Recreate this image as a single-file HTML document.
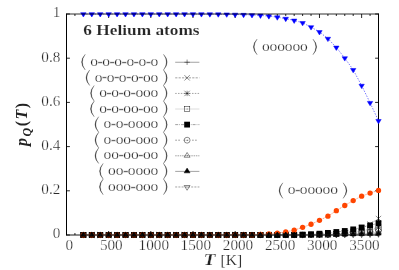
<!DOCTYPE html>
<html><head><meta charset="utf-8"><title>chart</title>
<style>html,body{margin:0;padding:0;background:#fff;}svg{display:block;will-change:transform;opacity:0.999;}</style></head>
<body>
<svg width="399" height="270" viewBox="0 0 399 270">
<rect width="399" height="270" fill="#fff"/>
<path d="M66.5 13.5V235.5M378.5 13.5V235.5" stroke="#000" stroke-width="1" fill="none"/>
<path d="M66.5 235.0H378.5" stroke="#000" stroke-width="0.9" fill="none"/>
<path d="M66.50 235.0v-4.0M66.50 14.0v4.0M74.93 235.0v-2.0M74.93 14.0v2.0M83.36 235.0v-2.0M83.36 14.0v2.0M91.80 235.0v-2.0M91.80 14.0v2.0M100.23 235.0v-2.0M100.23 14.0v2.0M108.66 235.0v-4.0M108.66 14.0v4.0M117.09 235.0v-2.0M117.09 14.0v2.0M125.53 235.0v-2.0M125.53 14.0v2.0M133.96 235.0v-2.0M133.96 14.0v2.0M142.39 235.0v-2.0M142.39 14.0v2.0M150.82 235.0v-4.0M150.82 14.0v4.0M159.26 235.0v-2.0M159.26 14.0v2.0M167.69 235.0v-2.0M167.69 14.0v2.0M176.12 235.0v-2.0M176.12 14.0v2.0M184.55 235.0v-2.0M184.55 14.0v2.0M192.99 235.0v-4.0M192.99 14.0v4.0M201.42 235.0v-2.0M201.42 14.0v2.0M209.85 235.0v-2.0M209.85 14.0v2.0M218.28 235.0v-2.0M218.28 14.0v2.0M226.72 235.0v-2.0M226.72 14.0v2.0M235.15 235.0v-4.0M235.15 14.0v4.0M243.58 235.0v-2.0M243.58 14.0v2.0M252.01 235.0v-2.0M252.01 14.0v2.0M260.45 235.0v-2.0M260.45 14.0v2.0M268.88 235.0v-2.0M268.88 14.0v2.0M277.31 235.0v-4.0M277.31 14.0v4.0M285.74 235.0v-2.0M285.74 14.0v2.0M294.18 235.0v-2.0M294.18 14.0v2.0M302.61 235.0v-2.0M302.61 14.0v2.0M311.04 235.0v-2.0M311.04 14.0v2.0M319.47 235.0v-4.0M319.47 14.0v4.0M327.91 235.0v-2.0M327.91 14.0v2.0M336.34 235.0v-2.0M336.34 14.0v2.0M344.77 235.0v-2.0M344.77 14.0v2.0M353.20 235.0v-2.0M353.20 14.0v2.0M361.64 235.0v-4.0M361.64 14.0v4.0M370.07 235.0v-2.0M370.07 14.0v2.0M378.50 235.0v-2.0M378.50 14.0v2.0M66.5 235.00h3.4M378.5 235.00h-3.4M66.5 190.80h3.4M378.5 190.80h-3.4M66.5 146.60h3.4M378.5 146.60h-3.4M66.5 102.40h3.4M378.5 102.40h-3.4M66.5 58.20h3.4M378.5 58.20h-3.4M66.5 14.00h3.4M378.5 14.00h-3.4" stroke="#000" stroke-width="0.85" fill="none"/>
<polyline points="83.36,235.00 91.80,235.00 100.23,235.00 108.66,235.00 117.09,235.00 125.53,235.00 133.96,235.00 142.39,235.00 150.82,235.00 159.26,235.00 167.69,235.00 176.12,235.00 184.55,235.00 192.99,235.00 201.42,235.00 209.85,235.00 218.28,235.00 226.72,235.00 235.15,235.00 243.58,235.00 252.01,235.00 260.45,235.00 268.88,235.00 277.31,235.00 285.74,235.00 294.18,235.00 302.61,235.00 311.04,235.00 319.47,234.99 327.91,234.98 336.34,234.96 344.77,234.94 353.20,234.91 361.64,234.88 370.07,234.83 378.50,234.78" fill="none" stroke="#444" stroke-width="0.4"/>
<path d="M80.66 235.00H86.06M83.36 232.30V237.70" stroke="#000" stroke-width="0.45" fill="none"/>
<path d="M89.10 235.00H94.50M91.80 232.30V237.70" stroke="#000" stroke-width="0.45" fill="none"/>
<path d="M97.53 235.00H102.93M100.23 232.30V237.70" stroke="#000" stroke-width="0.45" fill="none"/>
<path d="M105.96 235.00H111.36M108.66 232.30V237.70" stroke="#000" stroke-width="0.45" fill="none"/>
<path d="M114.39 235.00H119.79M117.09 232.30V237.70" stroke="#000" stroke-width="0.45" fill="none"/>
<path d="M122.83 235.00H128.23M125.53 232.30V237.70" stroke="#000" stroke-width="0.45" fill="none"/>
<path d="M131.26 235.00H136.66M133.96 232.30V237.70" stroke="#000" stroke-width="0.45" fill="none"/>
<path d="M139.69 235.00H145.09M142.39 232.30V237.70" stroke="#000" stroke-width="0.45" fill="none"/>
<path d="M148.12 235.00H153.52M150.82 232.30V237.70" stroke="#000" stroke-width="0.45" fill="none"/>
<path d="M156.56 235.00H161.96M159.26 232.30V237.70" stroke="#000" stroke-width="0.45" fill="none"/>
<path d="M164.99 235.00H170.39M167.69 232.30V237.70" stroke="#000" stroke-width="0.45" fill="none"/>
<path d="M173.42 235.00H178.82M176.12 232.30V237.70" stroke="#000" stroke-width="0.45" fill="none"/>
<path d="M181.85 235.00H187.25M184.55 232.30V237.70" stroke="#000" stroke-width="0.45" fill="none"/>
<path d="M190.29 235.00H195.69M192.99 232.30V237.70" stroke="#000" stroke-width="0.45" fill="none"/>
<path d="M198.72 235.00H204.12M201.42 232.30V237.70" stroke="#000" stroke-width="0.45" fill="none"/>
<path d="M207.15 235.00H212.55M209.85 232.30V237.70" stroke="#000" stroke-width="0.45" fill="none"/>
<path d="M215.58 235.00H220.98M218.28 232.30V237.70" stroke="#000" stroke-width="0.45" fill="none"/>
<path d="M224.02 235.00H229.42M226.72 232.30V237.70" stroke="#000" stroke-width="0.45" fill="none"/>
<path d="M232.45 235.00H237.85M235.15 232.30V237.70" stroke="#000" stroke-width="0.45" fill="none"/>
<path d="M240.88 235.00H246.28M243.58 232.30V237.70" stroke="#000" stroke-width="0.45" fill="none"/>
<path d="M249.31 235.00H254.71M252.01 232.30V237.70" stroke="#000" stroke-width="0.45" fill="none"/>
<path d="M257.75 235.00H263.15M260.45 232.30V237.70" stroke="#000" stroke-width="0.45" fill="none"/>
<path d="M266.18 235.00H271.58M268.88 232.30V237.70" stroke="#000" stroke-width="0.45" fill="none"/>
<path d="M274.61 235.00H280.01M277.31 232.30V237.70" stroke="#000" stroke-width="0.45" fill="none"/>
<path d="M283.04 235.00H288.44M285.74 232.30V237.70" stroke="#000" stroke-width="0.45" fill="none"/>
<path d="M291.48 235.00H296.88M294.18 232.30V237.70" stroke="#000" stroke-width="0.45" fill="none"/>
<path d="M299.91 235.00H305.31M302.61 232.30V237.70" stroke="#000" stroke-width="0.45" fill="none"/>
<path d="M308.34 235.00H313.74M311.04 232.30V237.70" stroke="#000" stroke-width="0.45" fill="none"/>
<path d="M316.77 234.99H322.17M319.47 232.29V237.69" stroke="#000" stroke-width="0.45" fill="none"/>
<path d="M325.21 234.98H330.61M327.91 232.28V237.68" stroke="#000" stroke-width="0.45" fill="none"/>
<path d="M333.64 234.96H339.04M336.34 232.26V237.66" stroke="#000" stroke-width="0.45" fill="none"/>
<path d="M342.07 234.94H347.47M344.77 232.24V237.64" stroke="#000" stroke-width="0.45" fill="none"/>
<path d="M350.50 234.91H355.90M353.20 232.21V237.61" stroke="#000" stroke-width="0.45" fill="none"/>
<path d="M358.94 234.88H364.34M361.64 232.18V237.58" stroke="#000" stroke-width="0.45" fill="none"/>
<path d="M367.37 234.83H372.77M370.07 232.13V237.53" stroke="#000" stroke-width="0.45" fill="none"/>
<path d="M375.80 234.78H381.20M378.50 232.08V237.48" stroke="#000" stroke-width="0.45" fill="none"/>
<polyline points="83.36,235.00 91.80,235.00 100.23,235.00 108.66,235.00 117.09,235.00 125.53,235.00 133.96,235.00 142.39,235.00 150.82,235.00 159.26,235.00 167.69,235.00 176.12,235.00 184.55,235.00 192.99,235.00 201.42,235.00 209.85,235.00 218.28,235.00 226.72,235.00 235.15,235.00 243.58,235.00 252.01,235.00 260.45,235.00 268.88,235.00 277.31,235.00 285.74,235.00 294.18,235.00 302.61,235.00 311.04,234.99 319.47,234.91 327.91,234.65 336.34,234.04 344.77,232.90 353.20,231.02 361.64,228.17 370.07,224.10 378.50,218.54" fill="none" stroke="#444" stroke-width="0.4" stroke-dasharray="2.2,1.2"/>
<path d="M80.66 232.30L86.06 237.70M80.66 237.70L86.06 232.30" stroke="#000" stroke-width="0.45" fill="none"/>
<path d="M89.10 232.30L94.50 237.70M89.10 237.70L94.50 232.30" stroke="#000" stroke-width="0.45" fill="none"/>
<path d="M97.53 232.30L102.93 237.70M97.53 237.70L102.93 232.30" stroke="#000" stroke-width="0.45" fill="none"/>
<path d="M105.96 232.30L111.36 237.70M105.96 237.70L111.36 232.30" stroke="#000" stroke-width="0.45" fill="none"/>
<path d="M114.39 232.30L119.79 237.70M114.39 237.70L119.79 232.30" stroke="#000" stroke-width="0.45" fill="none"/>
<path d="M122.83 232.30L128.23 237.70M122.83 237.70L128.23 232.30" stroke="#000" stroke-width="0.45" fill="none"/>
<path d="M131.26 232.30L136.66 237.70M131.26 237.70L136.66 232.30" stroke="#000" stroke-width="0.45" fill="none"/>
<path d="M139.69 232.30L145.09 237.70M139.69 237.70L145.09 232.30" stroke="#000" stroke-width="0.45" fill="none"/>
<path d="M148.12 232.30L153.52 237.70M148.12 237.70L153.52 232.30" stroke="#000" stroke-width="0.45" fill="none"/>
<path d="M156.56 232.30L161.96 237.70M156.56 237.70L161.96 232.30" stroke="#000" stroke-width="0.45" fill="none"/>
<path d="M164.99 232.30L170.39 237.70M164.99 237.70L170.39 232.30" stroke="#000" stroke-width="0.45" fill="none"/>
<path d="M173.42 232.30L178.82 237.70M173.42 237.70L178.82 232.30" stroke="#000" stroke-width="0.45" fill="none"/>
<path d="M181.85 232.30L187.25 237.70M181.85 237.70L187.25 232.30" stroke="#000" stroke-width="0.45" fill="none"/>
<path d="M190.29 232.30L195.69 237.70M190.29 237.70L195.69 232.30" stroke="#000" stroke-width="0.45" fill="none"/>
<path d="M198.72 232.30L204.12 237.70M198.72 237.70L204.12 232.30" stroke="#000" stroke-width="0.45" fill="none"/>
<path d="M207.15 232.30L212.55 237.70M207.15 237.70L212.55 232.30" stroke="#000" stroke-width="0.45" fill="none"/>
<path d="M215.58 232.30L220.98 237.70M215.58 237.70L220.98 232.30" stroke="#000" stroke-width="0.45" fill="none"/>
<path d="M224.02 232.30L229.42 237.70M224.02 237.70L229.42 232.30" stroke="#000" stroke-width="0.45" fill="none"/>
<path d="M232.45 232.30L237.85 237.70M232.45 237.70L237.85 232.30" stroke="#000" stroke-width="0.45" fill="none"/>
<path d="M240.88 232.30L246.28 237.70M240.88 237.70L246.28 232.30" stroke="#000" stroke-width="0.45" fill="none"/>
<path d="M249.31 232.30L254.71 237.70M249.31 237.70L254.71 232.30" stroke="#000" stroke-width="0.45" fill="none"/>
<path d="M257.75 232.30L263.15 237.70M257.75 237.70L263.15 232.30" stroke="#000" stroke-width="0.45" fill="none"/>
<path d="M266.18 232.30L271.58 237.70M266.18 237.70L271.58 232.30" stroke="#000" stroke-width="0.45" fill="none"/>
<path d="M274.61 232.30L280.01 237.70M274.61 237.70L280.01 232.30" stroke="#000" stroke-width="0.45" fill="none"/>
<path d="M283.04 232.30L288.44 237.70M283.04 237.70L288.44 232.30" stroke="#000" stroke-width="0.45" fill="none"/>
<path d="M291.48 232.30L296.88 237.70M291.48 237.70L296.88 232.30" stroke="#000" stroke-width="0.45" fill="none"/>
<path d="M299.91 232.30L305.31 237.70M299.91 237.70L305.31 232.30" stroke="#000" stroke-width="0.45" fill="none"/>
<path d="M308.34 232.29L313.74 237.69M308.34 237.69L313.74 232.29" stroke="#000" stroke-width="0.45" fill="none"/>
<path d="M316.77 232.21L322.17 237.61M316.77 237.61L322.17 232.21" stroke="#000" stroke-width="0.45" fill="none"/>
<path d="M325.21 231.95L330.61 237.35M325.21 237.35L330.61 231.95" stroke="#000" stroke-width="0.45" fill="none"/>
<path d="M333.64 231.34L339.04 236.74M333.64 236.74L339.04 231.34" stroke="#000" stroke-width="0.45" fill="none"/>
<path d="M342.07 230.20L347.47 235.60M342.07 235.60L347.47 230.20" stroke="#000" stroke-width="0.45" fill="none"/>
<path d="M350.50 228.32L355.90 233.72M350.50 233.72L355.90 228.32" stroke="#000" stroke-width="0.45" fill="none"/>
<path d="M358.94 225.47L364.34 230.87M358.94 230.87L364.34 225.47" stroke="#000" stroke-width="0.45" fill="none"/>
<path d="M367.37 221.40L372.77 226.80M367.37 226.80L372.77 221.40" stroke="#000" stroke-width="0.45" fill="none"/>
<path d="M375.80 215.84L381.20 221.24M375.80 221.24L381.20 215.84" stroke="#000" stroke-width="0.45" fill="none"/>
<polyline points="83.36,235.00 91.80,235.00 100.23,235.00 108.66,235.00 117.09,235.00 125.53,235.00 133.96,235.00 142.39,235.00 150.82,235.00 159.26,235.00 167.69,235.00 176.12,235.00 184.55,235.00 192.99,235.00 201.42,235.00 209.85,235.00 218.28,235.00 226.72,235.00 235.15,235.00 243.58,235.00 252.01,235.00 260.45,235.00 268.88,235.00 277.31,235.00 285.74,235.00 294.18,235.00 302.61,234.98 311.04,234.89 319.47,234.67 327.91,234.31 336.34,233.76 344.77,233.01 353.20,232.03 361.64,230.79 370.07,229.29 378.50,227.49" fill="none" stroke="#444" stroke-width="0.4" stroke-dasharray="1.5,1.3"/>
<path d="M80.66 232.30L86.06 237.70M80.66 237.70L86.06 232.30M80.66 235.00H86.06M83.36 232.30V237.70" stroke="#000" stroke-width="0.45" fill="none"/>
<path d="M89.10 232.30L94.50 237.70M89.10 237.70L94.50 232.30M89.10 235.00H94.50M91.80 232.30V237.70" stroke="#000" stroke-width="0.45" fill="none"/>
<path d="M97.53 232.30L102.93 237.70M97.53 237.70L102.93 232.30M97.53 235.00H102.93M100.23 232.30V237.70" stroke="#000" stroke-width="0.45" fill="none"/>
<path d="M105.96 232.30L111.36 237.70M105.96 237.70L111.36 232.30M105.96 235.00H111.36M108.66 232.30V237.70" stroke="#000" stroke-width="0.45" fill="none"/>
<path d="M114.39 232.30L119.79 237.70M114.39 237.70L119.79 232.30M114.39 235.00H119.79M117.09 232.30V237.70" stroke="#000" stroke-width="0.45" fill="none"/>
<path d="M122.83 232.30L128.23 237.70M122.83 237.70L128.23 232.30M122.83 235.00H128.23M125.53 232.30V237.70" stroke="#000" stroke-width="0.45" fill="none"/>
<path d="M131.26 232.30L136.66 237.70M131.26 237.70L136.66 232.30M131.26 235.00H136.66M133.96 232.30V237.70" stroke="#000" stroke-width="0.45" fill="none"/>
<path d="M139.69 232.30L145.09 237.70M139.69 237.70L145.09 232.30M139.69 235.00H145.09M142.39 232.30V237.70" stroke="#000" stroke-width="0.45" fill="none"/>
<path d="M148.12 232.30L153.52 237.70M148.12 237.70L153.52 232.30M148.12 235.00H153.52M150.82 232.30V237.70" stroke="#000" stroke-width="0.45" fill="none"/>
<path d="M156.56 232.30L161.96 237.70M156.56 237.70L161.96 232.30M156.56 235.00H161.96M159.26 232.30V237.70" stroke="#000" stroke-width="0.45" fill="none"/>
<path d="M164.99 232.30L170.39 237.70M164.99 237.70L170.39 232.30M164.99 235.00H170.39M167.69 232.30V237.70" stroke="#000" stroke-width="0.45" fill="none"/>
<path d="M173.42 232.30L178.82 237.70M173.42 237.70L178.82 232.30M173.42 235.00H178.82M176.12 232.30V237.70" stroke="#000" stroke-width="0.45" fill="none"/>
<path d="M181.85 232.30L187.25 237.70M181.85 237.70L187.25 232.30M181.85 235.00H187.25M184.55 232.30V237.70" stroke="#000" stroke-width="0.45" fill="none"/>
<path d="M190.29 232.30L195.69 237.70M190.29 237.70L195.69 232.30M190.29 235.00H195.69M192.99 232.30V237.70" stroke="#000" stroke-width="0.45" fill="none"/>
<path d="M198.72 232.30L204.12 237.70M198.72 237.70L204.12 232.30M198.72 235.00H204.12M201.42 232.30V237.70" stroke="#000" stroke-width="0.45" fill="none"/>
<path d="M207.15 232.30L212.55 237.70M207.15 237.70L212.55 232.30M207.15 235.00H212.55M209.85 232.30V237.70" stroke="#000" stroke-width="0.45" fill="none"/>
<path d="M215.58 232.30L220.98 237.70M215.58 237.70L220.98 232.30M215.58 235.00H220.98M218.28 232.30V237.70" stroke="#000" stroke-width="0.45" fill="none"/>
<path d="M224.02 232.30L229.42 237.70M224.02 237.70L229.42 232.30M224.02 235.00H229.42M226.72 232.30V237.70" stroke="#000" stroke-width="0.45" fill="none"/>
<path d="M232.45 232.30L237.85 237.70M232.45 237.70L237.85 232.30M232.45 235.00H237.85M235.15 232.30V237.70" stroke="#000" stroke-width="0.45" fill="none"/>
<path d="M240.88 232.30L246.28 237.70M240.88 237.70L246.28 232.30M240.88 235.00H246.28M243.58 232.30V237.70" stroke="#000" stroke-width="0.45" fill="none"/>
<path d="M249.31 232.30L254.71 237.70M249.31 237.70L254.71 232.30M249.31 235.00H254.71M252.01 232.30V237.70" stroke="#000" stroke-width="0.45" fill="none"/>
<path d="M257.75 232.30L263.15 237.70M257.75 237.70L263.15 232.30M257.75 235.00H263.15M260.45 232.30V237.70" stroke="#000" stroke-width="0.45" fill="none"/>
<path d="M266.18 232.30L271.58 237.70M266.18 237.70L271.58 232.30M266.18 235.00H271.58M268.88 232.30V237.70" stroke="#000" stroke-width="0.45" fill="none"/>
<path d="M274.61 232.30L280.01 237.70M274.61 237.70L280.01 232.30M274.61 235.00H280.01M277.31 232.30V237.70" stroke="#000" stroke-width="0.45" fill="none"/>
<path d="M283.04 232.30L288.44 237.70M283.04 237.70L288.44 232.30M283.04 235.00H288.44M285.74 232.30V237.70" stroke="#000" stroke-width="0.45" fill="none"/>
<path d="M291.48 232.30L296.88 237.70M291.48 237.70L296.88 232.30M291.48 235.00H296.88M294.18 232.30V237.70" stroke="#000" stroke-width="0.45" fill="none"/>
<path d="M299.91 232.28L305.31 237.68M299.91 237.68L305.31 232.28M299.91 234.98H305.31M302.61 232.28V237.68" stroke="#000" stroke-width="0.45" fill="none"/>
<path d="M308.34 232.19L313.74 237.59M308.34 237.59L313.74 232.19M308.34 234.89H313.74M311.04 232.19V237.59" stroke="#000" stroke-width="0.45" fill="none"/>
<path d="M316.77 231.97L322.17 237.37M316.77 237.37L322.17 231.97M316.77 234.67H322.17M319.47 231.97V237.37" stroke="#000" stroke-width="0.45" fill="none"/>
<path d="M325.21 231.61L330.61 237.01M325.21 237.01L330.61 231.61M325.21 234.31H330.61M327.91 231.61V237.01" stroke="#000" stroke-width="0.45" fill="none"/>
<path d="M333.64 231.06L339.04 236.46M333.64 236.46L339.04 231.06M333.64 233.76H339.04M336.34 231.06V236.46" stroke="#000" stroke-width="0.45" fill="none"/>
<path d="M342.07 230.31L347.47 235.71M342.07 235.71L347.47 230.31M342.07 233.01H347.47M344.77 230.31V235.71" stroke="#000" stroke-width="0.45" fill="none"/>
<path d="M350.50 229.33L355.90 234.73M350.50 234.73L355.90 229.33M350.50 232.03H355.90M353.20 229.33V234.73" stroke="#000" stroke-width="0.45" fill="none"/>
<path d="M358.94 228.09L364.34 233.49M358.94 233.49L364.34 228.09M358.94 230.79H364.34M361.64 228.09V233.49" stroke="#000" stroke-width="0.45" fill="none"/>
<path d="M367.37 226.59L372.77 231.99M367.37 231.99L372.77 226.59M367.37 229.29H372.77M370.07 226.59V231.99" stroke="#000" stroke-width="0.45" fill="none"/>
<path d="M375.80 224.79L381.20 230.19M375.80 230.19L381.20 224.79M375.80 227.49H381.20M378.50 224.79V230.19" stroke="#000" stroke-width="0.45" fill="none"/>
<polyline points="83.36,235.00 91.80,235.00 100.23,235.00 108.66,235.00 117.09,235.00 125.53,235.00 133.96,235.00 142.39,235.00 150.82,235.00 159.26,235.00 167.69,235.00 176.12,235.00 184.55,235.00 192.99,235.00 201.42,235.00 209.85,235.00 218.28,235.00 226.72,235.00 235.15,235.00 243.58,235.00 252.01,235.00 260.45,235.00 268.88,235.00 277.31,235.00 285.74,235.00 294.18,235.00 302.61,234.98 311.04,234.91 319.47,234.73 327.91,234.43 336.34,233.98 344.77,233.36 353.20,232.55 361.64,231.54 370.07,230.29 378.50,228.81" fill="none" stroke="#b8b8b8" stroke-width="0.4"/>
<rect x="80.66" y="232.30" width="5.4" height="5.4" stroke="#000" stroke-width="0.45" fill="none"/><circle cx="83.36" cy="235.00" r="0.45" fill="#000"/>
<rect x="89.10" y="232.30" width="5.4" height="5.4" stroke="#000" stroke-width="0.45" fill="none"/><circle cx="91.80" cy="235.00" r="0.45" fill="#000"/>
<rect x="97.53" y="232.30" width="5.4" height="5.4" stroke="#000" stroke-width="0.45" fill="none"/><circle cx="100.23" cy="235.00" r="0.45" fill="#000"/>
<rect x="105.96" y="232.30" width="5.4" height="5.4" stroke="#000" stroke-width="0.45" fill="none"/><circle cx="108.66" cy="235.00" r="0.45" fill="#000"/>
<rect x="114.39" y="232.30" width="5.4" height="5.4" stroke="#000" stroke-width="0.45" fill="none"/><circle cx="117.09" cy="235.00" r="0.45" fill="#000"/>
<rect x="122.83" y="232.30" width="5.4" height="5.4" stroke="#000" stroke-width="0.45" fill="none"/><circle cx="125.53" cy="235.00" r="0.45" fill="#000"/>
<rect x="131.26" y="232.30" width="5.4" height="5.4" stroke="#000" stroke-width="0.45" fill="none"/><circle cx="133.96" cy="235.00" r="0.45" fill="#000"/>
<rect x="139.69" y="232.30" width="5.4" height="5.4" stroke="#000" stroke-width="0.45" fill="none"/><circle cx="142.39" cy="235.00" r="0.45" fill="#000"/>
<rect x="148.12" y="232.30" width="5.4" height="5.4" stroke="#000" stroke-width="0.45" fill="none"/><circle cx="150.82" cy="235.00" r="0.45" fill="#000"/>
<rect x="156.56" y="232.30" width="5.4" height="5.4" stroke="#000" stroke-width="0.45" fill="none"/><circle cx="159.26" cy="235.00" r="0.45" fill="#000"/>
<rect x="164.99" y="232.30" width="5.4" height="5.4" stroke="#000" stroke-width="0.45" fill="none"/><circle cx="167.69" cy="235.00" r="0.45" fill="#000"/>
<rect x="173.42" y="232.30" width="5.4" height="5.4" stroke="#000" stroke-width="0.45" fill="none"/><circle cx="176.12" cy="235.00" r="0.45" fill="#000"/>
<rect x="181.85" y="232.30" width="5.4" height="5.4" stroke="#000" stroke-width="0.45" fill="none"/><circle cx="184.55" cy="235.00" r="0.45" fill="#000"/>
<rect x="190.29" y="232.30" width="5.4" height="5.4" stroke="#000" stroke-width="0.45" fill="none"/><circle cx="192.99" cy="235.00" r="0.45" fill="#000"/>
<rect x="198.72" y="232.30" width="5.4" height="5.4" stroke="#000" stroke-width="0.45" fill="none"/><circle cx="201.42" cy="235.00" r="0.45" fill="#000"/>
<rect x="207.15" y="232.30" width="5.4" height="5.4" stroke="#000" stroke-width="0.45" fill="none"/><circle cx="209.85" cy="235.00" r="0.45" fill="#000"/>
<rect x="215.58" y="232.30" width="5.4" height="5.4" stroke="#000" stroke-width="0.45" fill="none"/><circle cx="218.28" cy="235.00" r="0.45" fill="#000"/>
<rect x="224.02" y="232.30" width="5.4" height="5.4" stroke="#000" stroke-width="0.45" fill="none"/><circle cx="226.72" cy="235.00" r="0.45" fill="#000"/>
<rect x="232.45" y="232.30" width="5.4" height="5.4" stroke="#000" stroke-width="0.45" fill="none"/><circle cx="235.15" cy="235.00" r="0.45" fill="#000"/>
<rect x="240.88" y="232.30" width="5.4" height="5.4" stroke="#000" stroke-width="0.45" fill="none"/><circle cx="243.58" cy="235.00" r="0.45" fill="#000"/>
<rect x="249.31" y="232.30" width="5.4" height="5.4" stroke="#000" stroke-width="0.45" fill="none"/><circle cx="252.01" cy="235.00" r="0.45" fill="#000"/>
<rect x="257.75" y="232.30" width="5.4" height="5.4" stroke="#000" stroke-width="0.45" fill="none"/><circle cx="260.45" cy="235.00" r="0.45" fill="#000"/>
<rect x="266.18" y="232.30" width="5.4" height="5.4" stroke="#000" stroke-width="0.45" fill="none"/><circle cx="268.88" cy="235.00" r="0.45" fill="#000"/>
<rect x="274.61" y="232.30" width="5.4" height="5.4" stroke="#000" stroke-width="0.45" fill="none"/><circle cx="277.31" cy="235.00" r="0.45" fill="#000"/>
<rect x="283.04" y="232.30" width="5.4" height="5.4" stroke="#000" stroke-width="0.45" fill="none"/><circle cx="285.74" cy="235.00" r="0.45" fill="#000"/>
<rect x="291.48" y="232.30" width="5.4" height="5.4" stroke="#000" stroke-width="0.45" fill="none"/><circle cx="294.18" cy="235.00" r="0.45" fill="#000"/>
<rect x="299.91" y="232.28" width="5.4" height="5.4" stroke="#000" stroke-width="0.45" fill="none"/><circle cx="302.61" cy="234.98" r="0.45" fill="#000"/>
<rect x="308.34" y="232.21" width="5.4" height="5.4" stroke="#000" stroke-width="0.45" fill="none"/><circle cx="311.04" cy="234.91" r="0.45" fill="#000"/>
<rect x="316.77" y="232.03" width="5.4" height="5.4" stroke="#000" stroke-width="0.45" fill="none"/><circle cx="319.47" cy="234.73" r="0.45" fill="#000"/>
<rect x="325.21" y="231.73" width="5.4" height="5.4" stroke="#000" stroke-width="0.45" fill="none"/><circle cx="327.91" cy="234.43" r="0.45" fill="#000"/>
<rect x="333.64" y="231.28" width="5.4" height="5.4" stroke="#000" stroke-width="0.45" fill="none"/><circle cx="336.34" cy="233.98" r="0.45" fill="#000"/>
<rect x="342.07" y="230.66" width="5.4" height="5.4" stroke="#000" stroke-width="0.45" fill="none"/><circle cx="344.77" cy="233.36" r="0.45" fill="#000"/>
<rect x="350.50" y="229.85" width="5.4" height="5.4" stroke="#000" stroke-width="0.45" fill="none"/><circle cx="353.20" cy="232.55" r="0.45" fill="#000"/>
<rect x="358.94" y="228.84" width="5.4" height="5.4" stroke="#000" stroke-width="0.45" fill="none"/><circle cx="361.64" cy="231.54" r="0.45" fill="#000"/>
<rect x="367.37" y="227.59" width="5.4" height="5.4" stroke="#000" stroke-width="0.45" fill="none"/><circle cx="370.07" cy="230.29" r="0.45" fill="#000"/>
<rect x="375.80" y="226.11" width="5.4" height="5.4" stroke="#000" stroke-width="0.45" fill="none"/><circle cx="378.50" cy="228.81" r="0.45" fill="#000"/>
<polyline points="83.36,235.00 91.80,235.00 100.23,234.99 108.66,234.99 117.09,234.98 125.53,234.98 133.96,234.98 142.39,234.97 150.82,234.97 159.26,234.96 167.69,234.96 176.12,234.96 184.55,234.95 192.99,234.95 201.42,234.94 209.85,234.94 218.28,234.94 226.72,234.93 235.15,234.93 243.58,234.92 252.01,234.92 260.45,234.92 268.88,234.91 277.31,234.91 285.74,234.90 294.18,234.90 302.61,234.60 311.04,234.20 319.47,233.69 327.91,232.89 336.34,231.99 344.77,230.98 353.20,229.38 361.64,227.47 370.07,225.36 378.50,223.15" fill="none" stroke="#444" stroke-width="0.4" stroke-dasharray="3,1,0.8,1"/>
<rect x="80.46" y="232.10" width="5.800000000000001" height="5.800000000000001" fill="#000"/>
<rect x="88.90" y="232.10" width="5.800000000000001" height="5.800000000000001" fill="#000"/>
<rect x="97.33" y="232.09" width="5.800000000000001" height="5.800000000000001" fill="#000"/>
<rect x="105.76" y="232.09" width="5.800000000000001" height="5.800000000000001" fill="#000"/>
<rect x="114.19" y="232.08" width="5.800000000000001" height="5.800000000000001" fill="#000"/>
<rect x="122.63" y="232.08" width="5.800000000000001" height="5.800000000000001" fill="#000"/>
<rect x="131.06" y="232.08" width="5.800000000000001" height="5.800000000000001" fill="#000"/>
<rect x="139.49" y="232.07" width="5.800000000000001" height="5.800000000000001" fill="#000"/>
<rect x="147.92" y="232.07" width="5.800000000000001" height="5.800000000000001" fill="#000"/>
<rect x="156.36" y="232.06" width="5.800000000000001" height="5.800000000000001" fill="#000"/>
<rect x="164.79" y="232.06" width="5.800000000000001" height="5.800000000000001" fill="#000"/>
<rect x="173.22" y="232.06" width="5.800000000000001" height="5.800000000000001" fill="#000"/>
<rect x="181.65" y="232.05" width="5.800000000000001" height="5.800000000000001" fill="#000"/>
<rect x="190.09" y="232.05" width="5.800000000000001" height="5.800000000000001" fill="#000"/>
<rect x="198.52" y="232.04" width="5.800000000000001" height="5.800000000000001" fill="#000"/>
<rect x="206.95" y="232.04" width="5.800000000000001" height="5.800000000000001" fill="#000"/>
<rect x="215.38" y="232.04" width="5.800000000000001" height="5.800000000000001" fill="#000"/>
<rect x="223.82" y="232.03" width="5.800000000000001" height="5.800000000000001" fill="#000"/>
<rect x="232.25" y="232.03" width="5.800000000000001" height="5.800000000000001" fill="#000"/>
<rect x="240.68" y="232.02" width="5.800000000000001" height="5.800000000000001" fill="#000"/>
<rect x="249.11" y="232.02" width="5.800000000000001" height="5.800000000000001" fill="#000"/>
<rect x="257.55" y="232.02" width="5.800000000000001" height="5.800000000000001" fill="#000"/>
<rect x="265.98" y="232.01" width="5.800000000000001" height="5.800000000000001" fill="#000"/>
<rect x="274.41" y="232.01" width="5.800000000000001" height="5.800000000000001" fill="#000"/>
<rect x="282.84" y="232.00" width="5.800000000000001" height="5.800000000000001" fill="#000"/>
<rect x="291.28" y="232.00" width="5.800000000000001" height="5.800000000000001" fill="#000"/>
<rect x="299.71" y="231.70" width="5.800000000000001" height="5.800000000000001" fill="#000"/>
<rect x="308.14" y="231.30" width="5.800000000000001" height="5.800000000000001" fill="#000"/>
<rect x="316.57" y="230.79" width="5.800000000000001" height="5.800000000000001" fill="#000"/>
<rect x="325.01" y="229.99" width="5.800000000000001" height="5.800000000000001" fill="#000"/>
<rect x="333.44" y="229.09" width="5.800000000000001" height="5.800000000000001" fill="#000"/>
<rect x="341.87" y="228.08" width="5.800000000000001" height="5.800000000000001" fill="#000"/>
<rect x="350.30" y="226.48" width="5.800000000000001" height="5.800000000000001" fill="#000"/>
<rect x="358.74" y="224.57" width="5.800000000000001" height="5.800000000000001" fill="#000"/>
<rect x="367.17" y="222.46" width="5.800000000000001" height="5.800000000000001" fill="#000"/>
<rect x="375.60" y="220.25" width="5.800000000000001" height="5.800000000000001" fill="#000"/>
<polyline points="83.36,235.00 91.80,235.00 100.23,235.00 108.66,235.00 117.09,235.00 125.53,235.00 133.96,235.00 142.39,235.00 150.82,235.00 159.26,235.00 167.69,235.00 176.12,235.00 184.55,235.00 192.99,235.00 201.42,235.00 209.85,235.00 218.28,235.00 226.72,235.00 235.15,235.00 243.58,235.00 252.01,235.00 260.45,235.00 268.88,235.00 277.31,235.00 285.74,235.00 294.18,235.00 302.61,234.99 311.04,234.93 319.47,234.81 327.91,234.59 336.34,234.27 344.77,233.83 353.20,233.25 361.64,232.53 370.07,231.64 378.50,230.58" fill="none" stroke="#444" stroke-width="0.4" stroke-dasharray="1.8,1.2,1.8,3.6"/>
<circle cx="83.36" cy="235.00" r="2.7" stroke="#000" stroke-width="0.45" fill="none"/><circle cx="83.36" cy="235.00" r="0.45" fill="#000"/>
<circle cx="91.80" cy="235.00" r="2.7" stroke="#000" stroke-width="0.45" fill="none"/><circle cx="91.80" cy="235.00" r="0.45" fill="#000"/>
<circle cx="100.23" cy="235.00" r="2.7" stroke="#000" stroke-width="0.45" fill="none"/><circle cx="100.23" cy="235.00" r="0.45" fill="#000"/>
<circle cx="108.66" cy="235.00" r="2.7" stroke="#000" stroke-width="0.45" fill="none"/><circle cx="108.66" cy="235.00" r="0.45" fill="#000"/>
<circle cx="117.09" cy="235.00" r="2.7" stroke="#000" stroke-width="0.45" fill="none"/><circle cx="117.09" cy="235.00" r="0.45" fill="#000"/>
<circle cx="125.53" cy="235.00" r="2.7" stroke="#000" stroke-width="0.45" fill="none"/><circle cx="125.53" cy="235.00" r="0.45" fill="#000"/>
<circle cx="133.96" cy="235.00" r="2.7" stroke="#000" stroke-width="0.45" fill="none"/><circle cx="133.96" cy="235.00" r="0.45" fill="#000"/>
<circle cx="142.39" cy="235.00" r="2.7" stroke="#000" stroke-width="0.45" fill="none"/><circle cx="142.39" cy="235.00" r="0.45" fill="#000"/>
<circle cx="150.82" cy="235.00" r="2.7" stroke="#000" stroke-width="0.45" fill="none"/><circle cx="150.82" cy="235.00" r="0.45" fill="#000"/>
<circle cx="159.26" cy="235.00" r="2.7" stroke="#000" stroke-width="0.45" fill="none"/><circle cx="159.26" cy="235.00" r="0.45" fill="#000"/>
<circle cx="167.69" cy="235.00" r="2.7" stroke="#000" stroke-width="0.45" fill="none"/><circle cx="167.69" cy="235.00" r="0.45" fill="#000"/>
<circle cx="176.12" cy="235.00" r="2.7" stroke="#000" stroke-width="0.45" fill="none"/><circle cx="176.12" cy="235.00" r="0.45" fill="#000"/>
<circle cx="184.55" cy="235.00" r="2.7" stroke="#000" stroke-width="0.45" fill="none"/><circle cx="184.55" cy="235.00" r="0.45" fill="#000"/>
<circle cx="192.99" cy="235.00" r="2.7" stroke="#000" stroke-width="0.45" fill="none"/><circle cx="192.99" cy="235.00" r="0.45" fill="#000"/>
<circle cx="201.42" cy="235.00" r="2.7" stroke="#000" stroke-width="0.45" fill="none"/><circle cx="201.42" cy="235.00" r="0.45" fill="#000"/>
<circle cx="209.85" cy="235.00" r="2.7" stroke="#000" stroke-width="0.45" fill="none"/><circle cx="209.85" cy="235.00" r="0.45" fill="#000"/>
<circle cx="218.28" cy="235.00" r="2.7" stroke="#000" stroke-width="0.45" fill="none"/><circle cx="218.28" cy="235.00" r="0.45" fill="#000"/>
<circle cx="226.72" cy="235.00" r="2.7" stroke="#000" stroke-width="0.45" fill="none"/><circle cx="226.72" cy="235.00" r="0.45" fill="#000"/>
<circle cx="235.15" cy="235.00" r="2.7" stroke="#000" stroke-width="0.45" fill="none"/><circle cx="235.15" cy="235.00" r="0.45" fill="#000"/>
<circle cx="243.58" cy="235.00" r="2.7" stroke="#000" stroke-width="0.45" fill="none"/><circle cx="243.58" cy="235.00" r="0.45" fill="#000"/>
<circle cx="252.01" cy="235.00" r="2.7" stroke="#000" stroke-width="0.45" fill="none"/><circle cx="252.01" cy="235.00" r="0.45" fill="#000"/>
<circle cx="260.45" cy="235.00" r="2.7" stroke="#000" stroke-width="0.45" fill="none"/><circle cx="260.45" cy="235.00" r="0.45" fill="#000"/>
<circle cx="268.88" cy="235.00" r="2.7" stroke="#000" stroke-width="0.45" fill="none"/><circle cx="268.88" cy="235.00" r="0.45" fill="#000"/>
<circle cx="277.31" cy="235.00" r="2.7" stroke="#000" stroke-width="0.45" fill="none"/><circle cx="277.31" cy="235.00" r="0.45" fill="#000"/>
<circle cx="285.74" cy="235.00" r="2.7" stroke="#000" stroke-width="0.45" fill="none"/><circle cx="285.74" cy="235.00" r="0.45" fill="#000"/>
<circle cx="294.18" cy="235.00" r="2.7" stroke="#000" stroke-width="0.45" fill="none"/><circle cx="294.18" cy="235.00" r="0.45" fill="#000"/>
<circle cx="302.61" cy="234.99" r="2.7" stroke="#000" stroke-width="0.45" fill="none"/><circle cx="302.61" cy="234.99" r="0.45" fill="#000"/>
<circle cx="311.04" cy="234.93" r="2.7" stroke="#000" stroke-width="0.45" fill="none"/><circle cx="311.04" cy="234.93" r="0.45" fill="#000"/>
<circle cx="319.47" cy="234.81" r="2.7" stroke="#000" stroke-width="0.45" fill="none"/><circle cx="319.47" cy="234.81" r="0.45" fill="#000"/>
<circle cx="327.91" cy="234.59" r="2.7" stroke="#000" stroke-width="0.45" fill="none"/><circle cx="327.91" cy="234.59" r="0.45" fill="#000"/>
<circle cx="336.34" cy="234.27" r="2.7" stroke="#000" stroke-width="0.45" fill="none"/><circle cx="336.34" cy="234.27" r="0.45" fill="#000"/>
<circle cx="344.77" cy="233.83" r="2.7" stroke="#000" stroke-width="0.45" fill="none"/><circle cx="344.77" cy="233.83" r="0.45" fill="#000"/>
<circle cx="353.20" cy="233.25" r="2.7" stroke="#000" stroke-width="0.45" fill="none"/><circle cx="353.20" cy="233.25" r="0.45" fill="#000"/>
<circle cx="361.64" cy="232.53" r="2.7" stroke="#000" stroke-width="0.45" fill="none"/><circle cx="361.64" cy="232.53" r="0.45" fill="#000"/>
<circle cx="370.07" cy="231.64" r="2.7" stroke="#000" stroke-width="0.45" fill="none"/><circle cx="370.07" cy="231.64" r="0.45" fill="#000"/>
<circle cx="378.50" cy="230.58" r="2.7" stroke="#000" stroke-width="0.45" fill="none"/><circle cx="378.50" cy="230.58" r="0.45" fill="#000"/>
<polyline points="83.36,235.00 91.80,234.99 100.23,234.99 108.66,234.98 117.09,234.98 125.53,234.97 133.96,234.97 142.39,234.96 150.82,234.95 159.26,234.95 167.69,234.94 176.12,234.94 184.55,234.93 192.99,234.92 201.42,234.92 209.85,234.91 218.28,234.91 226.72,234.90 235.15,234.90 243.58,234.89 252.01,234.88 260.45,234.42 268.88,233.85 277.31,233.04 285.74,231.89 294.18,230.18 302.61,227.37 311.04,224.26 319.47,220.34 327.91,216.22 336.34,210.70 344.77,205.48 353.20,200.56 361.64,196.14 370.07,193.03 378.50,190.42" fill="none" stroke="#ff4500" stroke-width="0.5" stroke-dasharray="1.3,0.7"/>
<circle cx="83.36" cy="235.00" r="2.6500000000000004" fill="#ff4500"/>
<circle cx="91.80" cy="234.99" r="2.6500000000000004" fill="#ff4500"/>
<circle cx="100.23" cy="234.99" r="2.6500000000000004" fill="#ff4500"/>
<circle cx="108.66" cy="234.98" r="2.6500000000000004" fill="#ff4500"/>
<circle cx="117.09" cy="234.98" r="2.6500000000000004" fill="#ff4500"/>
<circle cx="125.53" cy="234.97" r="2.6500000000000004" fill="#ff4500"/>
<circle cx="133.96" cy="234.97" r="2.6500000000000004" fill="#ff4500"/>
<circle cx="142.39" cy="234.96" r="2.6500000000000004" fill="#ff4500"/>
<circle cx="150.82" cy="234.95" r="2.6500000000000004" fill="#ff4500"/>
<circle cx="159.26" cy="234.95" r="2.6500000000000004" fill="#ff4500"/>
<circle cx="167.69" cy="234.94" r="2.6500000000000004" fill="#ff4500"/>
<circle cx="176.12" cy="234.94" r="2.6500000000000004" fill="#ff4500"/>
<circle cx="184.55" cy="234.93" r="2.6500000000000004" fill="#ff4500"/>
<circle cx="192.99" cy="234.92" r="2.6500000000000004" fill="#ff4500"/>
<circle cx="201.42" cy="234.92" r="2.6500000000000004" fill="#ff4500"/>
<circle cx="209.85" cy="234.91" r="2.6500000000000004" fill="#ff4500"/>
<circle cx="218.28" cy="234.91" r="2.6500000000000004" fill="#ff4500"/>
<circle cx="226.72" cy="234.90" r="2.6500000000000004" fill="#ff4500"/>
<circle cx="235.15" cy="234.90" r="2.6500000000000004" fill="#ff4500"/>
<circle cx="243.58" cy="234.89" r="2.6500000000000004" fill="#ff4500"/>
<circle cx="252.01" cy="234.88" r="2.6500000000000004" fill="#ff4500"/>
<circle cx="260.45" cy="234.42" r="2.6500000000000004" fill="#ff4500"/>
<circle cx="268.88" cy="233.85" r="2.6500000000000004" fill="#ff4500"/>
<circle cx="277.31" cy="233.04" r="2.6500000000000004" fill="#ff4500"/>
<circle cx="285.74" cy="231.89" r="2.6500000000000004" fill="#ff4500"/>
<circle cx="294.18" cy="230.18" r="2.6500000000000004" fill="#ff4500"/>
<circle cx="302.61" cy="227.37" r="2.6500000000000004" fill="#ff4500"/>
<circle cx="311.04" cy="224.26" r="2.6500000000000004" fill="#ff4500"/>
<circle cx="319.47" cy="220.34" r="2.6500000000000004" fill="#ff4500"/>
<circle cx="327.91" cy="216.22" r="2.6500000000000004" fill="#ff4500"/>
<circle cx="336.34" cy="210.70" r="2.6500000000000004" fill="#ff4500"/>
<circle cx="344.77" cy="205.48" r="2.6500000000000004" fill="#ff4500"/>
<circle cx="353.20" cy="200.56" r="2.6500000000000004" fill="#ff4500"/>
<circle cx="361.64" cy="196.14" r="2.6500000000000004" fill="#ff4500"/>
<circle cx="370.07" cy="193.03" r="2.6500000000000004" fill="#ff4500"/>
<circle cx="378.50" cy="190.42" r="2.6500000000000004" fill="#ff4500"/>
<polyline points="83.36,235.00 91.80,235.00 100.23,235.00 108.66,235.00 117.09,235.00 125.53,235.00 133.96,235.00 142.39,235.00 150.82,235.00 159.26,235.00 167.69,235.00 176.12,235.00 184.55,235.00 192.99,235.00 201.42,235.00 209.85,235.00 218.28,235.00 226.72,235.00 235.15,235.00 243.58,235.00 252.01,235.00 260.45,235.00 268.88,235.00 277.31,235.00 285.74,235.00 294.18,235.00 302.61,234.99 311.04,234.96 319.47,234.88 327.91,234.76 336.34,234.56 344.77,234.30 353.20,233.95 361.64,233.52 370.07,232.98 378.50,232.35" fill="none" stroke="#444" stroke-width="0.4" stroke-dasharray="1.5,0.8"/>
<polygon points="83.36,231.98 80.66,236.35 86.06,236.35" stroke="#000" stroke-width="0.45" fill="none"/><circle cx="83.36" cy="235.00" r="0.45" fill="#000"/>
<polygon points="91.80,231.98 89.10,236.35 94.50,236.35" stroke="#000" stroke-width="0.45" fill="none"/><circle cx="91.80" cy="235.00" r="0.45" fill="#000"/>
<polygon points="100.23,231.98 97.53,236.35 102.93,236.35" stroke="#000" stroke-width="0.45" fill="none"/><circle cx="100.23" cy="235.00" r="0.45" fill="#000"/>
<polygon points="108.66,231.98 105.96,236.35 111.36,236.35" stroke="#000" stroke-width="0.45" fill="none"/><circle cx="108.66" cy="235.00" r="0.45" fill="#000"/>
<polygon points="117.09,231.98 114.39,236.35 119.79,236.35" stroke="#000" stroke-width="0.45" fill="none"/><circle cx="117.09" cy="235.00" r="0.45" fill="#000"/>
<polygon points="125.53,231.98 122.83,236.35 128.23,236.35" stroke="#000" stroke-width="0.45" fill="none"/><circle cx="125.53" cy="235.00" r="0.45" fill="#000"/>
<polygon points="133.96,231.98 131.26,236.35 136.66,236.35" stroke="#000" stroke-width="0.45" fill="none"/><circle cx="133.96" cy="235.00" r="0.45" fill="#000"/>
<polygon points="142.39,231.98 139.69,236.35 145.09,236.35" stroke="#000" stroke-width="0.45" fill="none"/><circle cx="142.39" cy="235.00" r="0.45" fill="#000"/>
<polygon points="150.82,231.98 148.12,236.35 153.52,236.35" stroke="#000" stroke-width="0.45" fill="none"/><circle cx="150.82" cy="235.00" r="0.45" fill="#000"/>
<polygon points="159.26,231.98 156.56,236.35 161.96,236.35" stroke="#000" stroke-width="0.45" fill="none"/><circle cx="159.26" cy="235.00" r="0.45" fill="#000"/>
<polygon points="167.69,231.98 164.99,236.35 170.39,236.35" stroke="#000" stroke-width="0.45" fill="none"/><circle cx="167.69" cy="235.00" r="0.45" fill="#000"/>
<polygon points="176.12,231.98 173.42,236.35 178.82,236.35" stroke="#000" stroke-width="0.45" fill="none"/><circle cx="176.12" cy="235.00" r="0.45" fill="#000"/>
<polygon points="184.55,231.98 181.85,236.35 187.25,236.35" stroke="#000" stroke-width="0.45" fill="none"/><circle cx="184.55" cy="235.00" r="0.45" fill="#000"/>
<polygon points="192.99,231.98 190.29,236.35 195.69,236.35" stroke="#000" stroke-width="0.45" fill="none"/><circle cx="192.99" cy="235.00" r="0.45" fill="#000"/>
<polygon points="201.42,231.98 198.72,236.35 204.12,236.35" stroke="#000" stroke-width="0.45" fill="none"/><circle cx="201.42" cy="235.00" r="0.45" fill="#000"/>
<polygon points="209.85,231.98 207.15,236.35 212.55,236.35" stroke="#000" stroke-width="0.45" fill="none"/><circle cx="209.85" cy="235.00" r="0.45" fill="#000"/>
<polygon points="218.28,231.98 215.58,236.35 220.98,236.35" stroke="#000" stroke-width="0.45" fill="none"/><circle cx="218.28" cy="235.00" r="0.45" fill="#000"/>
<polygon points="226.72,231.98 224.02,236.35 229.42,236.35" stroke="#000" stroke-width="0.45" fill="none"/><circle cx="226.72" cy="235.00" r="0.45" fill="#000"/>
<polygon points="235.15,231.98 232.45,236.35 237.85,236.35" stroke="#000" stroke-width="0.45" fill="none"/><circle cx="235.15" cy="235.00" r="0.45" fill="#000"/>
<polygon points="243.58,231.98 240.88,236.35 246.28,236.35" stroke="#000" stroke-width="0.45" fill="none"/><circle cx="243.58" cy="235.00" r="0.45" fill="#000"/>
<polygon points="252.01,231.98 249.31,236.35 254.71,236.35" stroke="#000" stroke-width="0.45" fill="none"/><circle cx="252.01" cy="235.00" r="0.45" fill="#000"/>
<polygon points="260.45,231.98 257.75,236.35 263.15,236.35" stroke="#000" stroke-width="0.45" fill="none"/><circle cx="260.45" cy="235.00" r="0.45" fill="#000"/>
<polygon points="268.88,231.98 266.18,236.35 271.58,236.35" stroke="#000" stroke-width="0.45" fill="none"/><circle cx="268.88" cy="235.00" r="0.45" fill="#000"/>
<polygon points="277.31,231.98 274.61,236.35 280.01,236.35" stroke="#000" stroke-width="0.45" fill="none"/><circle cx="277.31" cy="235.00" r="0.45" fill="#000"/>
<polygon points="285.74,231.98 283.04,236.35 288.44,236.35" stroke="#000" stroke-width="0.45" fill="none"/><circle cx="285.74" cy="235.00" r="0.45" fill="#000"/>
<polygon points="294.18,231.98 291.48,236.35 296.88,236.35" stroke="#000" stroke-width="0.45" fill="none"/><circle cx="294.18" cy="235.00" r="0.45" fill="#000"/>
<polygon points="302.61,231.97 299.91,236.34 305.31,236.34" stroke="#000" stroke-width="0.45" fill="none"/><circle cx="302.61" cy="234.99" r="0.45" fill="#000"/>
<polygon points="311.04,231.94 308.34,236.31 313.74,236.31" stroke="#000" stroke-width="0.45" fill="none"/><circle cx="311.04" cy="234.96" r="0.45" fill="#000"/>
<polygon points="319.47,231.86 316.77,236.23 322.17,236.23" stroke="#000" stroke-width="0.45" fill="none"/><circle cx="319.47" cy="234.88" r="0.45" fill="#000"/>
<polygon points="327.91,231.73 325.21,236.11 330.61,236.11" stroke="#000" stroke-width="0.45" fill="none"/><circle cx="327.91" cy="234.76" r="0.45" fill="#000"/>
<polygon points="336.34,231.54 333.64,235.91 339.04,235.91" stroke="#000" stroke-width="0.45" fill="none"/><circle cx="336.34" cy="234.56" r="0.45" fill="#000"/>
<polygon points="344.77,231.27 342.07,235.65 347.47,235.65" stroke="#000" stroke-width="0.45" fill="none"/><circle cx="344.77" cy="234.30" r="0.45" fill="#000"/>
<polygon points="353.20,230.93 350.50,235.30 355.90,235.30" stroke="#000" stroke-width="0.45" fill="none"/><circle cx="353.20" cy="233.95" r="0.45" fill="#000"/>
<polygon points="361.64,230.49 358.94,234.87 364.34,234.87" stroke="#000" stroke-width="0.45" fill="none"/><circle cx="361.64" cy="233.52" r="0.45" fill="#000"/>
<polygon points="370.07,229.96 367.37,234.33 372.77,234.33" stroke="#000" stroke-width="0.45" fill="none"/><circle cx="370.07" cy="232.98" r="0.45" fill="#000"/>
<polygon points="378.50,229.32 375.80,233.70 381.20,233.70" stroke="#000" stroke-width="0.45" fill="none"/><circle cx="378.50" cy="232.35" r="0.45" fill="#000"/>
<polyline points="83.36,235.00 91.80,235.00 100.23,235.00 108.66,235.00 117.09,235.00 125.53,235.00 133.96,235.00 142.39,235.00 150.82,235.00 159.26,235.00 167.69,235.00 176.12,235.00 184.55,235.00 192.99,235.00 201.42,235.00 209.85,235.00 218.28,235.00 226.72,235.00 235.15,235.00 243.58,235.00 252.01,235.00 260.45,235.00 268.88,235.00 277.31,235.00 285.74,235.00 294.18,235.00 302.61,235.00 311.04,234.98 319.47,234.94 327.91,234.88 336.34,234.78 344.77,234.65 353.20,234.48 361.64,234.26 370.07,233.99 378.50,233.67" fill="none" stroke="#444" stroke-width="0.4"/>
<polygon points="83.36,231.98 80.66,236.35 86.06,236.35" fill="#000" stroke="#000" stroke-width="0.5"/>
<polygon points="91.80,231.98 89.10,236.35 94.50,236.35" fill="#000" stroke="#000" stroke-width="0.5"/>
<polygon points="100.23,231.98 97.53,236.35 102.93,236.35" fill="#000" stroke="#000" stroke-width="0.5"/>
<polygon points="108.66,231.98 105.96,236.35 111.36,236.35" fill="#000" stroke="#000" stroke-width="0.5"/>
<polygon points="117.09,231.98 114.39,236.35 119.79,236.35" fill="#000" stroke="#000" stroke-width="0.5"/>
<polygon points="125.53,231.98 122.83,236.35 128.23,236.35" fill="#000" stroke="#000" stroke-width="0.5"/>
<polygon points="133.96,231.98 131.26,236.35 136.66,236.35" fill="#000" stroke="#000" stroke-width="0.5"/>
<polygon points="142.39,231.98 139.69,236.35 145.09,236.35" fill="#000" stroke="#000" stroke-width="0.5"/>
<polygon points="150.82,231.98 148.12,236.35 153.52,236.35" fill="#000" stroke="#000" stroke-width="0.5"/>
<polygon points="159.26,231.98 156.56,236.35 161.96,236.35" fill="#000" stroke="#000" stroke-width="0.5"/>
<polygon points="167.69,231.98 164.99,236.35 170.39,236.35" fill="#000" stroke="#000" stroke-width="0.5"/>
<polygon points="176.12,231.98 173.42,236.35 178.82,236.35" fill="#000" stroke="#000" stroke-width="0.5"/>
<polygon points="184.55,231.98 181.85,236.35 187.25,236.35" fill="#000" stroke="#000" stroke-width="0.5"/>
<polygon points="192.99,231.98 190.29,236.35 195.69,236.35" fill="#000" stroke="#000" stroke-width="0.5"/>
<polygon points="201.42,231.98 198.72,236.35 204.12,236.35" fill="#000" stroke="#000" stroke-width="0.5"/>
<polygon points="209.85,231.98 207.15,236.35 212.55,236.35" fill="#000" stroke="#000" stroke-width="0.5"/>
<polygon points="218.28,231.98 215.58,236.35 220.98,236.35" fill="#000" stroke="#000" stroke-width="0.5"/>
<polygon points="226.72,231.98 224.02,236.35 229.42,236.35" fill="#000" stroke="#000" stroke-width="0.5"/>
<polygon points="235.15,231.98 232.45,236.35 237.85,236.35" fill="#000" stroke="#000" stroke-width="0.5"/>
<polygon points="243.58,231.98 240.88,236.35 246.28,236.35" fill="#000" stroke="#000" stroke-width="0.5"/>
<polygon points="252.01,231.98 249.31,236.35 254.71,236.35" fill="#000" stroke="#000" stroke-width="0.5"/>
<polygon points="260.45,231.98 257.75,236.35 263.15,236.35" fill="#000" stroke="#000" stroke-width="0.5"/>
<polygon points="268.88,231.98 266.18,236.35 271.58,236.35" fill="#000" stroke="#000" stroke-width="0.5"/>
<polygon points="277.31,231.98 274.61,236.35 280.01,236.35" fill="#000" stroke="#000" stroke-width="0.5"/>
<polygon points="285.74,231.98 283.04,236.35 288.44,236.35" fill="#000" stroke="#000" stroke-width="0.5"/>
<polygon points="294.18,231.98 291.48,236.35 296.88,236.35" fill="#000" stroke="#000" stroke-width="0.5"/>
<polygon points="302.61,231.97 299.91,236.35 305.31,236.35" fill="#000" stroke="#000" stroke-width="0.5"/>
<polygon points="311.04,231.96 308.34,236.33 313.74,236.33" fill="#000" stroke="#000" stroke-width="0.5"/>
<polygon points="319.47,231.92 316.77,236.29 322.17,236.29" fill="#000" stroke="#000" stroke-width="0.5"/>
<polygon points="327.91,231.85 325.21,236.23 330.61,236.23" fill="#000" stroke="#000" stroke-width="0.5"/>
<polygon points="336.34,231.76 333.64,236.13 339.04,236.13" fill="#000" stroke="#000" stroke-width="0.5"/>
<polygon points="344.77,231.62 342.07,236.00 347.47,236.00" fill="#000" stroke="#000" stroke-width="0.5"/>
<polygon points="353.20,231.45 350.50,235.83 355.90,235.83" fill="#000" stroke="#000" stroke-width="0.5"/>
<polygon points="361.64,231.23 358.94,235.61 364.34,235.61" fill="#000" stroke="#000" stroke-width="0.5"/>
<polygon points="370.07,230.97 367.37,235.34 372.77,235.34" fill="#000" stroke="#000" stroke-width="0.5"/>
<polygon points="378.50,230.65 375.80,235.02 381.20,235.02" fill="#000" stroke="#000" stroke-width="0.5"/>
<polyline points="83.36,235.00 91.80,235.00 100.23,235.00 108.66,235.00 117.09,235.00 125.53,235.00 133.96,235.00 142.39,235.00 150.82,235.00 159.26,235.00 167.69,235.00 176.12,235.00 184.55,235.00 192.99,235.00 201.42,235.00 209.85,235.00 218.28,235.00 226.72,235.00 235.15,235.00 243.58,235.00 252.01,235.00 260.45,235.00 268.88,235.00 277.31,235.00 285.74,235.00 294.18,235.00 302.61,235.00 311.04,234.99 319.47,234.96 327.91,234.92 336.34,234.85 344.77,234.77 353.20,234.65 361.64,234.51 370.07,234.33 378.50,234.12" fill="none" stroke="#444" stroke-width="0.4" stroke-dasharray="2,1.2"/>
<polygon points="83.36,238.02 80.66,233.65 86.06,233.65" stroke="#000" stroke-width="0.45" fill="none"/><circle cx="83.36" cy="235.00" r="0.45" fill="#000"/>
<polygon points="91.80,238.02 89.10,233.65 94.50,233.65" stroke="#000" stroke-width="0.45" fill="none"/><circle cx="91.80" cy="235.00" r="0.45" fill="#000"/>
<polygon points="100.23,238.02 97.53,233.65 102.93,233.65" stroke="#000" stroke-width="0.45" fill="none"/><circle cx="100.23" cy="235.00" r="0.45" fill="#000"/>
<polygon points="108.66,238.02 105.96,233.65 111.36,233.65" stroke="#000" stroke-width="0.45" fill="none"/><circle cx="108.66" cy="235.00" r="0.45" fill="#000"/>
<polygon points="117.09,238.02 114.39,233.65 119.79,233.65" stroke="#000" stroke-width="0.45" fill="none"/><circle cx="117.09" cy="235.00" r="0.45" fill="#000"/>
<polygon points="125.53,238.02 122.83,233.65 128.23,233.65" stroke="#000" stroke-width="0.45" fill="none"/><circle cx="125.53" cy="235.00" r="0.45" fill="#000"/>
<polygon points="133.96,238.02 131.26,233.65 136.66,233.65" stroke="#000" stroke-width="0.45" fill="none"/><circle cx="133.96" cy="235.00" r="0.45" fill="#000"/>
<polygon points="142.39,238.02 139.69,233.65 145.09,233.65" stroke="#000" stroke-width="0.45" fill="none"/><circle cx="142.39" cy="235.00" r="0.45" fill="#000"/>
<polygon points="150.82,238.02 148.12,233.65 153.52,233.65" stroke="#000" stroke-width="0.45" fill="none"/><circle cx="150.82" cy="235.00" r="0.45" fill="#000"/>
<polygon points="159.26,238.02 156.56,233.65 161.96,233.65" stroke="#000" stroke-width="0.45" fill="none"/><circle cx="159.26" cy="235.00" r="0.45" fill="#000"/>
<polygon points="167.69,238.02 164.99,233.65 170.39,233.65" stroke="#000" stroke-width="0.45" fill="none"/><circle cx="167.69" cy="235.00" r="0.45" fill="#000"/>
<polygon points="176.12,238.02 173.42,233.65 178.82,233.65" stroke="#000" stroke-width="0.45" fill="none"/><circle cx="176.12" cy="235.00" r="0.45" fill="#000"/>
<polygon points="184.55,238.02 181.85,233.65 187.25,233.65" stroke="#000" stroke-width="0.45" fill="none"/><circle cx="184.55" cy="235.00" r="0.45" fill="#000"/>
<polygon points="192.99,238.02 190.29,233.65 195.69,233.65" stroke="#000" stroke-width="0.45" fill="none"/><circle cx="192.99" cy="235.00" r="0.45" fill="#000"/>
<polygon points="201.42,238.02 198.72,233.65 204.12,233.65" stroke="#000" stroke-width="0.45" fill="none"/><circle cx="201.42" cy="235.00" r="0.45" fill="#000"/>
<polygon points="209.85,238.02 207.15,233.65 212.55,233.65" stroke="#000" stroke-width="0.45" fill="none"/><circle cx="209.85" cy="235.00" r="0.45" fill="#000"/>
<polygon points="218.28,238.02 215.58,233.65 220.98,233.65" stroke="#000" stroke-width="0.45" fill="none"/><circle cx="218.28" cy="235.00" r="0.45" fill="#000"/>
<polygon points="226.72,238.02 224.02,233.65 229.42,233.65" stroke="#000" stroke-width="0.45" fill="none"/><circle cx="226.72" cy="235.00" r="0.45" fill="#000"/>
<polygon points="235.15,238.02 232.45,233.65 237.85,233.65" stroke="#000" stroke-width="0.45" fill="none"/><circle cx="235.15" cy="235.00" r="0.45" fill="#000"/>
<polygon points="243.58,238.02 240.88,233.65 246.28,233.65" stroke="#000" stroke-width="0.45" fill="none"/><circle cx="243.58" cy="235.00" r="0.45" fill="#000"/>
<polygon points="252.01,238.02 249.31,233.65 254.71,233.65" stroke="#000" stroke-width="0.45" fill="none"/><circle cx="252.01" cy="235.00" r="0.45" fill="#000"/>
<polygon points="260.45,238.02 257.75,233.65 263.15,233.65" stroke="#000" stroke-width="0.45" fill="none"/><circle cx="260.45" cy="235.00" r="0.45" fill="#000"/>
<polygon points="268.88,238.02 266.18,233.65 271.58,233.65" stroke="#000" stroke-width="0.45" fill="none"/><circle cx="268.88" cy="235.00" r="0.45" fill="#000"/>
<polygon points="277.31,238.02 274.61,233.65 280.01,233.65" stroke="#000" stroke-width="0.45" fill="none"/><circle cx="277.31" cy="235.00" r="0.45" fill="#000"/>
<polygon points="285.74,238.02 283.04,233.65 288.44,233.65" stroke="#000" stroke-width="0.45" fill="none"/><circle cx="285.74" cy="235.00" r="0.45" fill="#000"/>
<polygon points="294.18,238.02 291.48,233.65 296.88,233.65" stroke="#000" stroke-width="0.45" fill="none"/><circle cx="294.18" cy="235.00" r="0.45" fill="#000"/>
<polygon points="302.61,238.02 299.91,233.65 305.31,233.65" stroke="#000" stroke-width="0.45" fill="none"/><circle cx="302.61" cy="235.00" r="0.45" fill="#000"/>
<polygon points="311.04,238.01 308.34,233.64 313.74,233.64" stroke="#000" stroke-width="0.45" fill="none"/><circle cx="311.04" cy="234.99" r="0.45" fill="#000"/>
<polygon points="319.47,237.99 316.77,233.61 322.17,233.61" stroke="#000" stroke-width="0.45" fill="none"/><circle cx="319.47" cy="234.96" r="0.45" fill="#000"/>
<polygon points="327.91,237.94 325.21,233.57 330.61,233.57" stroke="#000" stroke-width="0.45" fill="none"/><circle cx="327.91" cy="234.92" r="0.45" fill="#000"/>
<polygon points="336.34,237.88 333.64,233.50 339.04,233.50" stroke="#000" stroke-width="0.45" fill="none"/><circle cx="336.34" cy="234.85" r="0.45" fill="#000"/>
<polygon points="344.77,237.79 342.07,233.42 347.47,233.42" stroke="#000" stroke-width="0.45" fill="none"/><circle cx="344.77" cy="234.77" r="0.45" fill="#000"/>
<polygon points="353.20,237.67 350.50,233.30 355.90,233.30" stroke="#000" stroke-width="0.45" fill="none"/><circle cx="353.20" cy="234.65" r="0.45" fill="#000"/>
<polygon points="361.64,237.53 358.94,233.16 364.34,233.16" stroke="#000" stroke-width="0.45" fill="none"/><circle cx="361.64" cy="234.51" r="0.45" fill="#000"/>
<polygon points="370.07,237.35 367.37,232.98 372.77,232.98" stroke="#000" stroke-width="0.45" fill="none"/><circle cx="370.07" cy="234.33" r="0.45" fill="#000"/>
<polygon points="378.50,237.14 375.80,232.77 381.20,232.77" stroke="#000" stroke-width="0.45" fill="none"/><circle cx="378.50" cy="234.12" r="0.45" fill="#000"/>
<polyline points="83.36,14.00 91.80,14.00 100.23,14.00 108.66,14.00 117.09,14.00 125.53,14.00 133.96,14.00 142.39,14.00 150.82,14.00 159.26,14.00 167.69,14.00 176.12,14.00 184.55,14.00 192.99,14.00 201.42,14.07 209.85,14.13 218.28,14.20 226.72,14.30 235.15,14.50 243.58,14.70 252.01,15.00 260.45,15.41 268.88,16.11 277.31,17.21 285.74,18.62 294.18,20.43 302.61,22.84 311.04,27.05 319.47,31.97 327.91,38.60 336.34,47.44 344.77,58.08 353.20,69.83 361.64,85.59 370.07,102.76 378.50,120.84" fill="none" stroke="#0000ff" stroke-width="0.55" stroke-dasharray="1.4,1.4"/>
<polygon points="83.36,17.02 80.66,12.65 86.06,12.65" fill="#0000ff" stroke="#0000ff" stroke-width="0.5"/>
<polygon points="91.80,17.02 89.10,12.65 94.50,12.65" fill="#0000ff" stroke="#0000ff" stroke-width="0.5"/>
<polygon points="100.23,17.02 97.53,12.65 102.93,12.65" fill="#0000ff" stroke="#0000ff" stroke-width="0.5"/>
<polygon points="108.66,17.02 105.96,12.65 111.36,12.65" fill="#0000ff" stroke="#0000ff" stroke-width="0.5"/>
<polygon points="117.09,17.02 114.39,12.65 119.79,12.65" fill="#0000ff" stroke="#0000ff" stroke-width="0.5"/>
<polygon points="125.53,17.02 122.83,12.65 128.23,12.65" fill="#0000ff" stroke="#0000ff" stroke-width="0.5"/>
<polygon points="133.96,17.02 131.26,12.65 136.66,12.65" fill="#0000ff" stroke="#0000ff" stroke-width="0.5"/>
<polygon points="142.39,17.02 139.69,12.65 145.09,12.65" fill="#0000ff" stroke="#0000ff" stroke-width="0.5"/>
<polygon points="150.82,17.02 148.12,12.65 153.52,12.65" fill="#0000ff" stroke="#0000ff" stroke-width="0.5"/>
<polygon points="159.26,17.02 156.56,12.65 161.96,12.65" fill="#0000ff" stroke="#0000ff" stroke-width="0.5"/>
<polygon points="167.69,17.02 164.99,12.65 170.39,12.65" fill="#0000ff" stroke="#0000ff" stroke-width="0.5"/>
<polygon points="176.12,17.02 173.42,12.65 178.82,12.65" fill="#0000ff" stroke="#0000ff" stroke-width="0.5"/>
<polygon points="184.55,17.02 181.85,12.65 187.25,12.65" fill="#0000ff" stroke="#0000ff" stroke-width="0.5"/>
<polygon points="192.99,17.02 190.29,12.65 195.69,12.65" fill="#0000ff" stroke="#0000ff" stroke-width="0.5"/>
<polygon points="201.42,17.09 198.72,12.72 204.12,12.72" fill="#0000ff" stroke="#0000ff" stroke-width="0.5"/>
<polygon points="209.85,17.16 207.15,12.78 212.55,12.78" fill="#0000ff" stroke="#0000ff" stroke-width="0.5"/>
<polygon points="218.28,17.22 215.58,12.85 220.98,12.85" fill="#0000ff" stroke="#0000ff" stroke-width="0.5"/>
<polygon points="226.72,17.33 224.02,12.95 229.42,12.95" fill="#0000ff" stroke="#0000ff" stroke-width="0.5"/>
<polygon points="235.15,17.53 232.45,13.15 237.85,13.15" fill="#0000ff" stroke="#0000ff" stroke-width="0.5"/>
<polygon points="243.58,17.73 240.88,13.35 246.28,13.35" fill="#0000ff" stroke="#0000ff" stroke-width="0.5"/>
<polygon points="252.01,18.03 249.31,13.65 254.71,13.65" fill="#0000ff" stroke="#0000ff" stroke-width="0.5"/>
<polygon points="260.45,18.43 257.75,14.06 263.15,14.06" fill="#0000ff" stroke="#0000ff" stroke-width="0.5"/>
<polygon points="268.88,19.13 266.18,14.76 271.58,14.76" fill="#0000ff" stroke="#0000ff" stroke-width="0.5"/>
<polygon points="277.31,20.24 274.61,15.86 280.01,15.86" fill="#0000ff" stroke="#0000ff" stroke-width="0.5"/>
<polygon points="285.74,21.64 283.04,17.27 288.44,17.27" fill="#0000ff" stroke="#0000ff" stroke-width="0.5"/>
<polygon points="294.18,23.45 291.48,19.08 296.88,19.08" fill="#0000ff" stroke="#0000ff" stroke-width="0.5"/>
<polygon points="302.61,25.86 299.91,21.49 305.31,21.49" fill="#0000ff" stroke="#0000ff" stroke-width="0.5"/>
<polygon points="311.04,30.08 308.34,25.70 313.74,25.70" fill="#0000ff" stroke="#0000ff" stroke-width="0.5"/>
<polygon points="319.47,35.00 316.77,30.62 322.17,30.62" fill="#0000ff" stroke="#0000ff" stroke-width="0.5"/>
<polygon points="327.91,41.62 325.21,37.25 330.61,37.25" fill="#0000ff" stroke="#0000ff" stroke-width="0.5"/>
<polygon points="336.34,50.46 333.64,46.09 339.04,46.09" fill="#0000ff" stroke="#0000ff" stroke-width="0.5"/>
<polygon points="344.77,61.10 342.07,56.73 347.47,56.73" fill="#0000ff" stroke="#0000ff" stroke-width="0.5"/>
<polygon points="353.20,72.85 350.50,68.48 355.90,68.48" fill="#0000ff" stroke="#0000ff" stroke-width="0.5"/>
<polygon points="361.64,88.62 358.94,84.24 364.34,84.24" fill="#0000ff" stroke="#0000ff" stroke-width="0.5"/>
<polygon points="370.07,105.79 367.37,101.41 372.77,101.41" fill="#0000ff" stroke="#0000ff" stroke-width="0.5"/>
<polygon points="378.50,123.86 375.80,119.49 381.20,119.49" fill="#0000ff" stroke="#0000ff" stroke-width="0.5"/>
<path d="M66.5 14.0H378.5" stroke="#000" stroke-width="0.9" fill="none" opacity="0.9"/>
<text x="60.3" y="238.40" text-anchor="end" font-family="Liberation Serif, serif" font-size="15.2" fill="#2a2a2a" stroke="#fff" stroke-width="0.25">0</text>
<text x="60.3" y="194.20" text-anchor="end" font-family="Liberation Serif, serif" font-size="15.2" fill="#2a2a2a" stroke="#fff" stroke-width="0.25">0.2</text>
<text x="60.3" y="150.00" text-anchor="end" font-family="Liberation Serif, serif" font-size="15.2" fill="#2a2a2a" stroke="#fff" stroke-width="0.25">0.4</text>
<text x="60.3" y="105.80" text-anchor="end" font-family="Liberation Serif, serif" font-size="15.2" fill="#2a2a2a" stroke="#fff" stroke-width="0.25">0.6</text>
<text x="60.3" y="61.60" text-anchor="end" font-family="Liberation Serif, serif" font-size="15.2" fill="#2a2a2a" stroke="#fff" stroke-width="0.25">0.8</text>
<text x="60.3" y="17.40" text-anchor="end" font-family="Liberation Serif, serif" font-size="15.2" fill="#2a2a2a" stroke="#fff" stroke-width="0.25">1</text>
<text x="69.2" y="249.5" text-anchor="middle" font-family="Liberation Serif, serif" font-size="15.2" fill="#2a2a2a" stroke="#fff" stroke-width="0.25">0</text>
<text x="111.3" y="249.5" text-anchor="middle" font-family="Liberation Serif, serif" font-size="15.2" fill="#2a2a2a" stroke="#fff" stroke-width="0.25">500</text>
<text x="153.8" y="249.5" text-anchor="middle" font-family="Liberation Serif, serif" font-size="15.2" fill="#2a2a2a" stroke="#fff" stroke-width="0.25">1000</text>
<text x="195.8" y="249.5" text-anchor="middle" font-family="Liberation Serif, serif" font-size="15.2" fill="#2a2a2a" stroke="#fff" stroke-width="0.25">1500</text>
<text x="238" y="249.5" text-anchor="middle" font-family="Liberation Serif, serif" font-size="15.2" fill="#2a2a2a" stroke="#fff" stroke-width="0.25">2000</text>
<text x="280.1" y="249.5" text-anchor="middle" font-family="Liberation Serif, serif" font-size="15.2" fill="#2a2a2a" stroke="#fff" stroke-width="0.25">2500</text>
<text x="322.2" y="249.5" text-anchor="middle" font-family="Liberation Serif, serif" font-size="15.2" fill="#2a2a2a" stroke="#fff" stroke-width="0.25">3000</text>
<text x="364.4" y="249.5" text-anchor="middle" font-family="Liberation Serif, serif" font-size="15.2" fill="#2a2a2a" stroke="#fff" stroke-width="0.25">3500</text>
<text x="203.4" y="264.9" font-family="Liberation Serif, serif" font-size="15.8" font-weight="bold" font-style="italic" fill="#222" stroke="#fff" stroke-width="0.25" textLength="12" lengthAdjust="spacingAndGlyphs">T</text>
<text x="220.6" y="264.9" font-family="Liberation Serif, serif" font-size="15.6" fill="#222" stroke="#fff" stroke-width="0.15">[K]</text>
<text transform="translate(27.3,123.6) rotate(-90)" text-anchor="middle" font-family="Liberation Serif, serif" font-size="16" font-weight="bold" font-style="italic" fill="#222" letter-spacing="1.5">p<tspan font-size="12" dy="3.6">Q</tspan><tspan dy="-3.6" font-style="normal">(</tspan><tspan>T</tspan><tspan font-style="normal">)</tspan></text>
<text x="83.3" y="34.8" font-family="Liberation Serif, serif" font-size="15" font-weight="bold" fill="#262626" stroke="#fff" stroke-width="0.15" textLength="116.3" lengthAdjust="spacingAndGlyphs">6 Helium atoms</text>
<path d="M163.50 54.35Q170.90 62.15 163.50 69.95Q169.30 62.15 163.50 54.35Z" fill="#2a2a2a" stroke="#2a2a2a" stroke-width="0.25"/><path d="M85.25 54.35Q77.85 62.15 85.25 69.95Q79.45 62.15 85.25 54.35Z" fill="#2a2a2a" stroke="#2a2a2a" stroke-width="0.25"/><text font-family="Liberation Serif, serif" fill="#262626" stroke="#fff" stroke-width="0.25"><tspan x="90.17" y="65.95" font-size="15.5">o</tspan><tspan x="97.13" y="66.85" font-size="17.8" stroke-width="0.5">-</tspan><tspan x="102.25" y="65.95" font-size="15.5">o</tspan><tspan x="109.21" y="66.85" font-size="17.8" stroke-width="0.5">-</tspan><tspan x="114.33" y="65.95" font-size="15.5">o</tspan><tspan x="121.29" y="66.85" font-size="17.8" stroke-width="0.5">-</tspan><tspan x="126.41" y="65.95" font-size="15.5">o</tspan><tspan x="133.37" y="66.85" font-size="17.8" stroke-width="0.5">-</tspan><tspan x="138.49" y="65.95" font-size="15.5">o</tspan><tspan x="145.45" y="66.85" font-size="17.8" stroke-width="0.5">-</tspan><tspan x="150.57" y="65.95" font-size="15.5">o</tspan></text>
<path d="M175.2 62.25H199.4" stroke="#444" stroke-width="0.5" fill="none"/>
<path d="M184.40 62.25H189.80M187.10 59.55V64.95" stroke="#000" stroke-width="0.45" fill="none"/>
<path d="M163.50 69.94Q170.90 77.74 163.50 85.54Q169.30 77.74 163.50 69.94Z" fill="#2a2a2a" stroke="#2a2a2a" stroke-width="0.25"/><path d="M89.73 69.94Q82.33 77.74 89.73 85.54Q83.93 77.74 89.73 69.94Z" fill="#2a2a2a" stroke="#2a2a2a" stroke-width="0.25"/><text font-family="Liberation Serif, serif" fill="#262626" stroke="#fff" stroke-width="0.25"><tspan x="94.65" y="81.54" font-size="15.5">o</tspan><tspan x="101.61" y="82.44" font-size="17.8" stroke-width="0.5">-</tspan><tspan x="106.73" y="81.54" font-size="15.5">o</tspan><tspan x="113.69" y="82.44" font-size="17.8" stroke-width="0.5">-</tspan><tspan x="118.81" y="81.54" font-size="15.5">o</tspan><tspan x="125.77" y="82.44" font-size="17.8" stroke-width="0.5">-</tspan><tspan x="130.89" y="81.54" font-size="15.5">o</tspan><tspan x="137.85" y="82.44" font-size="17.8" stroke-width="0.5">-</tspan><tspan x="142.97" y="81.54" font-size="15.5">o</tspan><tspan x="150.57" y="81.54" font-size="15.5">o</tspan></text>
<path d="M175.2 77.84H199.4" stroke="#444" stroke-width="0.5" stroke-dasharray="2.2,1.2" fill="none"/>
<path d="M184.40 75.14L189.80 80.54M184.40 80.54L189.80 75.14" stroke="#000" stroke-width="0.45" fill="none"/>
<path d="M163.50 85.53Q170.90 93.33 163.50 101.13Q169.30 93.33 163.50 85.53Z" fill="#2a2a2a" stroke="#2a2a2a" stroke-width="0.25"/><path d="M94.21 85.53Q86.81 93.33 94.21 101.13Q88.41 93.33 94.21 85.53Z" fill="#2a2a2a" stroke="#2a2a2a" stroke-width="0.25"/><text font-family="Liberation Serif, serif" fill="#262626" stroke="#fff" stroke-width="0.25"><tspan x="99.14" y="97.13" font-size="15.5">o</tspan><tspan x="106.09" y="98.03" font-size="17.8" stroke-width="0.5">-</tspan><tspan x="111.22" y="97.13" font-size="15.5">o</tspan><tspan x="118.17" y="98.03" font-size="17.8" stroke-width="0.5">-</tspan><tspan x="123.30" y="97.13" font-size="15.5">o</tspan><tspan x="130.25" y="98.03" font-size="17.8" stroke-width="0.5">-</tspan><tspan x="135.38" y="97.13" font-size="15.5">o</tspan><tspan x="142.97" y="97.13" font-size="15.5">o</tspan><tspan x="150.57" y="97.13" font-size="15.5">o</tspan></text>
<path d="M175.2 93.43H199.4" stroke="#444" stroke-width="0.5" stroke-dasharray="1.5,1.3" fill="none"/>
<path d="M184.40 90.73L189.80 96.13M184.40 96.13L189.80 90.73M184.40 93.43H189.80M187.10 90.73V96.13" stroke="#000" stroke-width="0.45" fill="none"/>
<path d="M163.50 101.12Q170.90 108.92 163.50 116.72Q169.30 108.92 163.50 101.12Z" fill="#2a2a2a" stroke="#2a2a2a" stroke-width="0.25"/><path d="M94.21 101.12Q86.81 108.92 94.21 116.72Q88.41 108.92 94.21 101.12Z" fill="#2a2a2a" stroke="#2a2a2a" stroke-width="0.25"/><text font-family="Liberation Serif, serif" fill="#262626" stroke="#fff" stroke-width="0.25"><tspan x="99.13" y="112.72" font-size="15.5">o</tspan><tspan x="106.09" y="113.62" font-size="17.8" stroke-width="0.5">-</tspan><tspan x="111.21" y="112.72" font-size="15.5">o</tspan><tspan x="118.17" y="113.62" font-size="17.8" stroke-width="0.5">-</tspan><tspan x="123.29" y="112.72" font-size="15.5">o</tspan><tspan x="130.89" y="112.72" font-size="15.5">o</tspan><tspan x="137.85" y="113.62" font-size="17.8" stroke-width="0.5">-</tspan><tspan x="142.97" y="112.72" font-size="15.5">o</tspan><tspan x="150.57" y="112.72" font-size="15.5">o</tspan></text>
<path d="M175.2 109.02H199.4" stroke="#b8b8b8" stroke-width="0.5" fill="none"/>
<rect x="184.40" y="106.32" width="5.4" height="5.4" stroke="#000" stroke-width="0.45" fill="none"/><circle cx="187.10" cy="109.02" r="0.45" fill="#000"/>
<path d="M163.50 116.71Q170.90 124.51 163.50 132.31Q169.30 124.51 163.50 116.71Z" fill="#2a2a2a" stroke="#2a2a2a" stroke-width="0.25"/><path d="M98.69 116.71Q91.29 124.51 98.69 132.31Q92.89 124.51 98.69 116.71Z" fill="#2a2a2a" stroke="#2a2a2a" stroke-width="0.25"/><text font-family="Liberation Serif, serif" fill="#262626" stroke="#fff" stroke-width="0.25"><tspan x="103.62" y="128.31" font-size="15.5">o</tspan><tspan x="110.57" y="129.21" font-size="17.8" stroke-width="0.5">-</tspan><tspan x="115.70" y="128.31" font-size="15.5">o</tspan><tspan x="122.65" y="129.21" font-size="17.8" stroke-width="0.5">-</tspan><tspan x="127.78" y="128.31" font-size="15.5">o</tspan><tspan x="135.38" y="128.31" font-size="15.5">o</tspan><tspan x="142.97" y="128.31" font-size="15.5">o</tspan><tspan x="150.57" y="128.31" font-size="15.5">o</tspan></text>
<path d="M175.2 124.61H199.4" stroke="#444" stroke-width="0.5" stroke-dasharray="3,1,0.8,1" fill="none"/>
<rect x="184.20" y="121.71" width="5.800000000000001" height="5.800000000000001" fill="#000"/>
<path d="M163.50 132.30Q170.90 140.10 163.50 147.90Q169.30 140.10 163.50 132.30Z" fill="#2a2a2a" stroke="#2a2a2a" stroke-width="0.25"/><path d="M98.69 132.30Q91.29 140.10 98.69 147.90Q92.89 140.10 98.69 132.30Z" fill="#2a2a2a" stroke="#2a2a2a" stroke-width="0.25"/><text font-family="Liberation Serif, serif" fill="#262626" stroke="#fff" stroke-width="0.25"><tspan x="103.62" y="143.90" font-size="15.5">o</tspan><tspan x="110.57" y="144.80" font-size="17.8" stroke-width="0.5">-</tspan><tspan x="115.70" y="143.90" font-size="15.5">o</tspan><tspan x="123.30" y="143.90" font-size="15.5">o</tspan><tspan x="130.25" y="144.80" font-size="17.8" stroke-width="0.5">-</tspan><tspan x="135.38" y="143.90" font-size="15.5">o</tspan><tspan x="142.97" y="143.90" font-size="15.5">o</tspan><tspan x="150.57" y="143.90" font-size="15.5">o</tspan></text>
<path d="M175.2 140.20H199.4" stroke="#444" stroke-width="0.5" stroke-dasharray="1.8,1.2,1.8,3.6" fill="none"/>
<circle cx="187.10" cy="140.20" r="2.95" stroke="#000" stroke-width="0.45" fill="none"/><circle cx="187.10" cy="140.20" r="0.45" fill="#000"/>
<path d="M163.50 147.89Q170.90 155.69 163.50 163.49Q169.30 155.69 163.50 147.89Z" fill="#2a2a2a" stroke="#2a2a2a" stroke-width="0.25"/><path d="M98.69 147.89Q91.29 155.69 98.69 163.49Q92.89 155.69 98.69 147.89Z" fill="#2a2a2a" stroke="#2a2a2a" stroke-width="0.25"/><text font-family="Liberation Serif, serif" fill="#262626" stroke="#fff" stroke-width="0.25"><tspan x="103.61" y="159.49" font-size="15.5">o</tspan><tspan x="111.21" y="159.49" font-size="15.5">o</tspan><tspan x="118.17" y="160.39" font-size="17.8" stroke-width="0.5">-</tspan><tspan x="123.29" y="159.49" font-size="15.5">o</tspan><tspan x="130.89" y="159.49" font-size="15.5">o</tspan><tspan x="137.85" y="160.39" font-size="17.8" stroke-width="0.5">-</tspan><tspan x="142.97" y="159.49" font-size="15.5">o</tspan><tspan x="150.57" y="159.49" font-size="15.5">o</tspan></text>
<path d="M175.2 155.79H199.4" stroke="#444" stroke-width="0.5" stroke-dasharray="1.5,0.8" fill="none"/>
<polygon points="187.10,152.49 184.15,157.26 190.05,157.26" stroke="#000" stroke-width="0.45" fill="none"/><circle cx="187.10" cy="155.79" r="0.45" fill="#000"/>
<path d="M163.50 163.48Q170.90 171.28 163.50 179.08Q169.30 171.28 163.50 163.48Z" fill="#2a2a2a" stroke="#2a2a2a" stroke-width="0.25"/><path d="M103.17 163.48Q95.77 171.28 103.17 179.08Q97.37 171.28 103.17 163.48Z" fill="#2a2a2a" stroke="#2a2a2a" stroke-width="0.25"/><text font-family="Liberation Serif, serif" fill="#262626" stroke="#fff" stroke-width="0.25"><tspan x="108.10" y="175.08" font-size="15.5">o</tspan><tspan x="115.70" y="175.08" font-size="15.5">o</tspan><tspan x="122.65" y="175.98" font-size="17.8" stroke-width="0.5">-</tspan><tspan x="127.78" y="175.08" font-size="15.5">o</tspan><tspan x="135.38" y="175.08" font-size="15.5">o</tspan><tspan x="142.97" y="175.08" font-size="15.5">o</tspan><tspan x="150.57" y="175.08" font-size="15.5">o</tspan></text>
<path d="M175.2 171.38H199.4" stroke="#444" stroke-width="0.5" fill="none"/>
<polygon points="187.10,168.08 184.15,172.85 190.05,172.85" fill="#000" stroke="#000" stroke-width="0.5"/>
<path d="M163.50 179.07Q170.90 186.87 163.50 194.67Q169.30 186.87 163.50 179.07Z" fill="#2a2a2a" stroke="#2a2a2a" stroke-width="0.25"/><path d="M103.17 179.07Q95.77 186.87 103.17 194.67Q97.37 186.87 103.17 179.07Z" fill="#2a2a2a" stroke="#2a2a2a" stroke-width="0.25"/><text font-family="Liberation Serif, serif" fill="#262626" stroke="#fff" stroke-width="0.25"><tspan x="108.10" y="190.67" font-size="15.5">o</tspan><tspan x="115.70" y="190.67" font-size="15.5">o</tspan><tspan x="123.30" y="190.67" font-size="15.5">o</tspan><tspan x="130.25" y="191.57" font-size="17.8" stroke-width="0.5">-</tspan><tspan x="135.38" y="190.67" font-size="15.5">o</tspan><tspan x="142.97" y="190.67" font-size="15.5">o</tspan><tspan x="150.57" y="190.67" font-size="15.5">o</tspan></text>
<path d="M175.2 186.97H199.4" stroke="#444" stroke-width="0.5" stroke-dasharray="2,1.2" fill="none"/>
<polygon points="187.10,190.27 184.15,185.50 190.05,185.50" stroke="#000" stroke-width="0.45" fill="none"/><circle cx="187.10" cy="186.97" r="0.45" fill="#000"/>
<path d="M312.95 39.10Q320.35 46.90 312.95 54.70Q318.75 46.90 312.95 39.10Z" fill="#2a2a2a" stroke="#2a2a2a" stroke-width="0.25"/><path d="M257.10 39.10Q249.70 46.90 257.10 54.70Q251.30 46.90 257.10 39.10Z" fill="#2a2a2a" stroke="#2a2a2a" stroke-width="0.25"/><text font-family="Liberation Serif, serif" fill="#262626" stroke="#fff" stroke-width="0.25"><tspan x="262.02" y="50.70" font-size="15.5">o</tspan><tspan x="269.62" y="50.70" font-size="15.5">o</tspan><tspan x="277.22" y="50.70" font-size="15.5">o</tspan><tspan x="284.82" y="50.70" font-size="15.5">o</tspan><tspan x="292.42" y="50.70" font-size="15.5">o</tspan><tspan x="300.02" y="50.70" font-size="15.5">o</tspan></text>
<path d="M343.15 182.80Q350.55 190.60 343.15 198.40Q348.95 190.60 343.15 182.80Z" fill="#2a2a2a" stroke="#2a2a2a" stroke-width="0.25"/><path d="M282.82 182.80Q275.42 190.60 282.82 198.40Q277.02 190.60 282.82 182.80Z" fill="#2a2a2a" stroke="#2a2a2a" stroke-width="0.25"/><text font-family="Liberation Serif, serif" fill="#262626" stroke="#fff" stroke-width="0.25"><tspan x="287.74" y="194.40" font-size="15.5">o</tspan><tspan x="294.70" y="195.30" font-size="17.8" stroke-width="0.5">-</tspan><tspan x="299.82" y="194.40" font-size="15.5">o</tspan><tspan x="307.42" y="194.40" font-size="15.5">o</tspan><tspan x="315.02" y="194.40" font-size="15.5">o</tspan><tspan x="322.62" y="194.40" font-size="15.5">o</tspan><tspan x="330.22" y="194.40" font-size="15.5">o</tspan></text>
</svg>
</body></html>
